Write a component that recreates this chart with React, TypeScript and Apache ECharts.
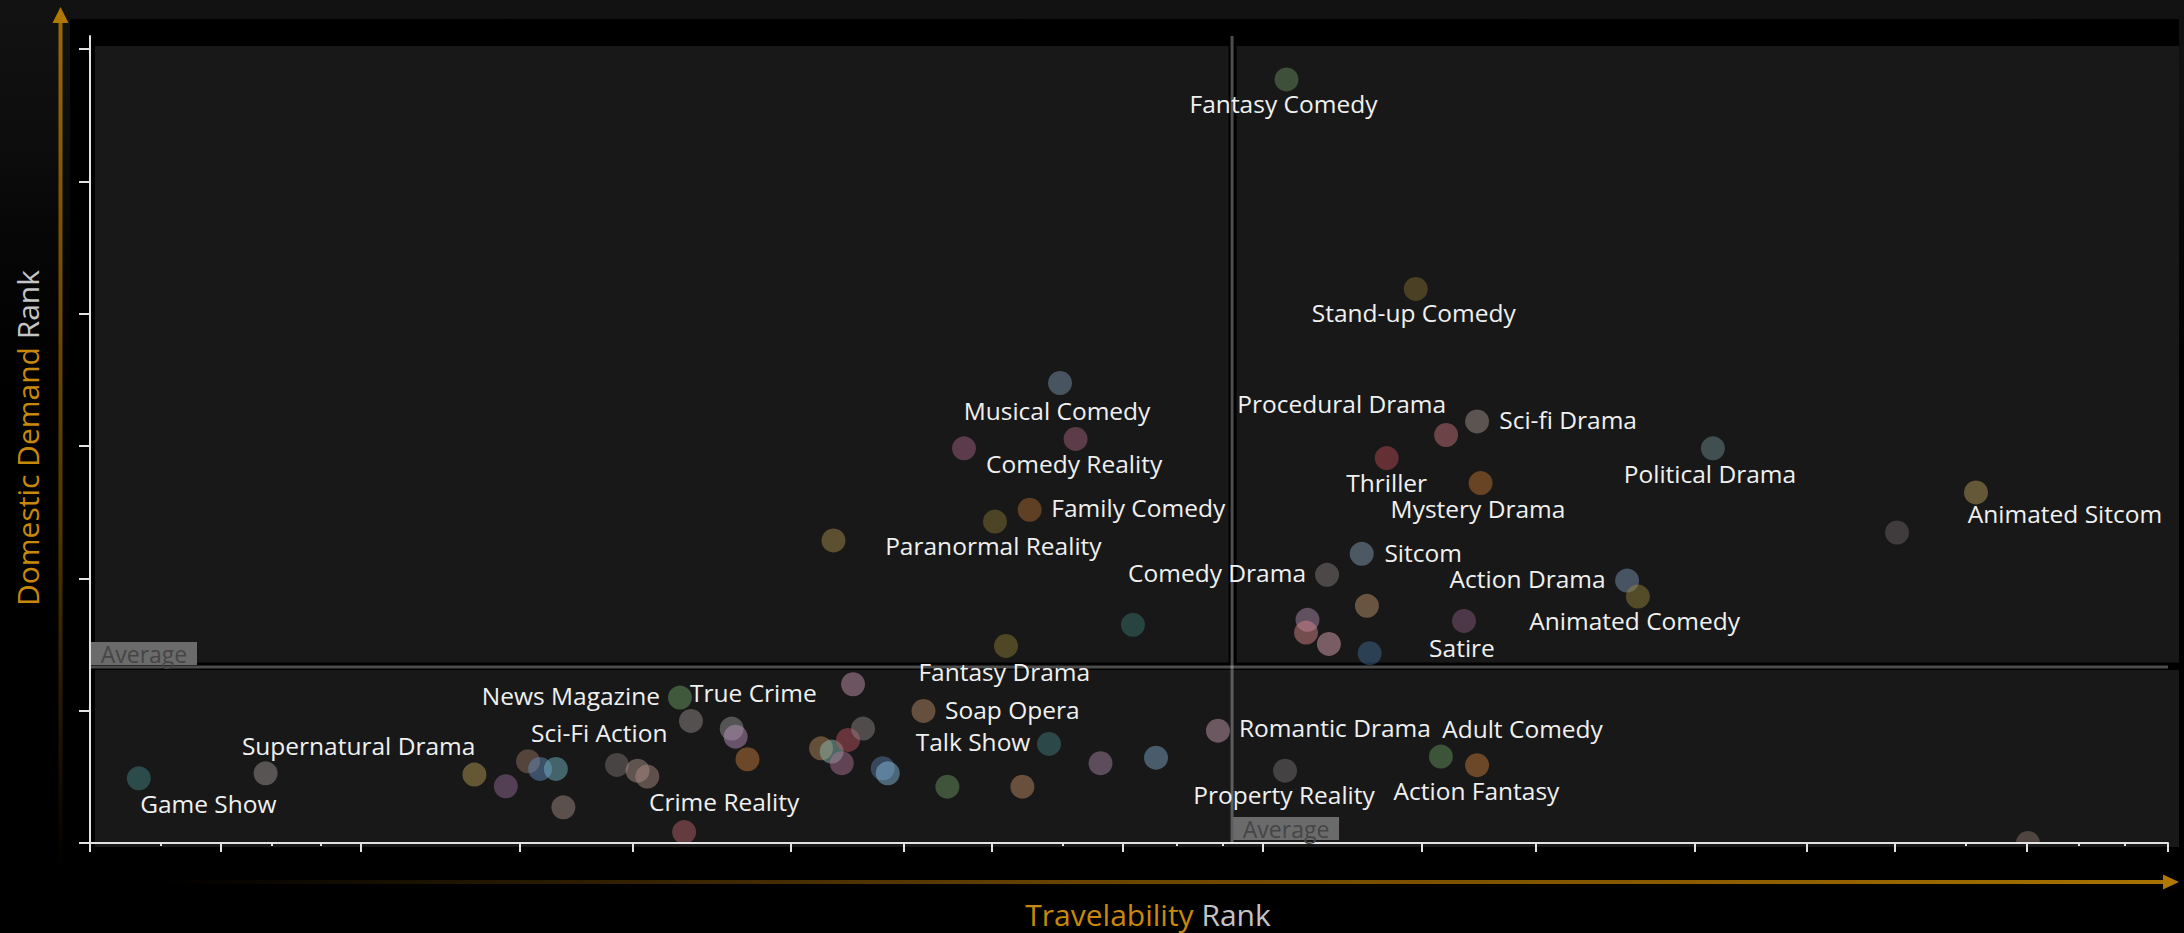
import React, { useEffect, useRef } from 'react';
import * as echarts from 'echarts';

const FONT = "'Open Sans', 'Noto Sans', sans-serif";

// Genre names ('' = unlabelled genre)
const names: string[] = [
  'Fantasy Comedy', 'Stand-up Comedy', 'Musical Comedy', 'Comedy Reality', 'Family Comedy',
  'Paranormal Reality', 'Comedy Drama', 'Sitcom', 'Procedural Drama', 'Sci-fi Drama',
  'Thriller', 'Mystery Drama', 'Political Drama', 'Animated Sitcom', 'Action Drama',
  'Animated Comedy', 'Satire', 'Fantasy Drama', 'News Magazine', 'True Crime',
  'Soap Opera', 'Talk Show', 'Romantic Drama', 'Property Reality', 'Adult Comedy',
  'Action Fantasy', 'Game Show', 'Supernatural Drama', 'Sci-Fi Action', 'Crime Reality',
  '', '', '', '', '', '', '', '', '', '', '', '', '', '', '', '', '', '', '', '', '', '', '', '',
  '', '', '', '', '', '', '', '', '',
];

// Travelability rank (x)
const travel: number[] = [
  57.58, 63.8, 46.68, 47.43, 45.22, 43.55, 59.53, 61.2, 65.26, 66.75,
  62.4, 66.92, 78.1, 90.76, 73.97, 74.49, 66.12, 44.08, 28.39, 28.92,
  40.11, 46.15, 54.28, 57.51, 65.01, 66.75, 2.35, 18.5, 25.36, 28.59,
  42.06, 35.78, 86.96, 61.45, 58.59, 58.52, 59.62, 61.58, 50.19, 36.72,
  30.88, 31.07, 31.64, 35.18, 35.69, 36.48, 37.2, 36.18, 38.15, 38.39,
  41.26, 44.87, 48.63, 51.3, 8.45, 20.01, 21.08, 21.66, 22.42, 22.78,
  26.35, 26.82, 93.26,
];

// Domestic demand rank (y)
const demand: number[] = [
  57.72, 41.88, 34.77, 30.54, 25.19, 24.3, 20.27, 21.86, 30.84, 31.87,
  29.1, 27.21, 29.83, 26.5, 19.84, 18.63, 16.79, 14.9, 10.99, 9.23,
  9.98, 7.49, 8.49, 5.47, 6.53, 5.88, 4.89, 5.17, 5.9, 0.83,
  29.83, 22.87, 23.47, 17.93, 16.87, 15.91, 15.05, 14.35, 16.49, 12.0,
  8.65, 8.04, 6.33, 7.16, 6.91, 7.79, 8.65, 6.03, 5.65, 5.27,
  4.26, 4.26, 6.03, 6.45, 5.27, 4.29, 6.18, 5.6, 5.6, 2.7,
  5.47, 5.02, 0,
];

// Averages
const avgTravel = 54.96;
const avgDemand = 13.31;

// Axis ticks (no labels in the original)
const travelTicksMajor = [0, 6.28, 13.04, 20.69, 26.13, 33.73, 39.17, 43.41, 49.71, 56.45, 64.1, 69.59, 77.24, 82.63, 86.86, 93.21, 100];
const travelTicksMinor = [3.42, 8.76, 11.09, 46.82, 52.31, 54.52, 90.28, 95.72, 97.93];
const demandTicks = [0, 10, 20, 30, 40, 50, 60];

// Dot colours as they appear on the dark panel (style)
const seenColors: string[] = [
  '#485f44', '#5a4b28', '#556473', '#6e4655', '#734b28', '#5a5028', '#5a5555', '#5a6978', '#825055', '#6e645f',
  '#78373c', '#7d5028', '#4b5f5f', '#786941', '#556478', '#645a2d', '#5a4155', '#5f5528', '#4b6946', '#645f5f',
  '#785f46', '#325555', '#826973', '#504d4d', '#466441', '#82552d', '#325a5a', '#78693c', '#555050', '#78464b',
  '#6e465a', '#6e5f37', '#4b4648', '#7d644b', '#735f73', '#8c5c5c', '#917078', '#324b64', '#2d504b', '#826473',
  '#646464', '#7d647d', '#82552d', '#785f41', '#5f7d78', '#7d3c46', '#5f5a5a', '#735064', '#41556e', '#5a7d91',
  '#4b6446', '#7d5f46', '#6e5a6e', '#556e82', '#696464', '#644b64', '#645046', '#465f7d', '#507882', '#6e5f5a',
  '#73645f', '#735f5a', '#5f504b',
];

// label centre relative to dot centre (style)
const labelOffsets: Record<string, [number, number]> = {
  'Fantasy Comedy': [-3, 24], 'Stand-up Comedy': [-2, 24], 'Musical Comedy': [-3, 27],
  'Comedy Reality': [-1.5, 25], 'Family Comedy': [108.6, -2], 'Paranormal Reality': [-1.6, 24.3],
  'Comedy Drama': [-110, -2], 'Sitcom': [61.4, -1.7], 'Procedural Drama': [-104.4, -31.3],
  'Sci-fi Drama': [91, -1.7], 'Thriller': [0, 24.7], 'Mystery Drama': [-2.6, 25],
  'Political Drama': [-3, 25], 'Animated Sitcom': [89, 21.3], 'Action Drama': [-99.5, -1.7],
  'Animated Comedy': [-3.2, 24], 'Satire': [-2, 26.3], 'Fantasy Drama': [-1.7, 25.7],
  'News Magazine': [-109, -2], 'True Crime': [62.4, -28.3], 'Soap Opera': [88.8, -1],
  'Talk Show': [-76, -2.3], 'Romantic Drama': [117, -3], 'Property Reality': [-1, 24.3],
  'Adult Comedy': [81.6, -28.3], 'Action Fantasy': [-0.6, 25], 'Game Show': [69.5, 25.2],
  'Supernatural Drama': [-115.8, -29], 'Sci-Fi Action': [-17.7, -32.7], 'Crime Reality': [40, -30.3],
};

const ALPHA = 0.6;
function toRgba(hex: string): string {
  const n = parseInt(hex.slice(1), 16);
  const ch = [(n >> 16) & 255, (n >> 8) & 255, n & 255];
  const src = ch.map((v) => Math.max(0, Math.min(255, Math.round((v - (1 - ALPHA) * 24) / ALPHA))));
  return `rgba(${src[0]},${src[1]},${src[2]},${ALPHA})`;
}

const AXIS_COLOR = '#e2e2e2';
const ORANGE = '#b07800';

export default function App() {
  const ref = useRef<HTMLDivElement>(null);

  useEffect(() => {
    if (!ref.current) return;
    const chart = echarts.init(ref.current, null, { renderer: 'svg' });

    const data = names.map((n, i) => ({
      name: n,
      value: [travel[i], demand[i]],
      itemStyle: { color: toRgba(seenColors[i]) },
      label: n ? { show: true, offset: labelOffsets[n] || [0, 26] } : { show: false },
    }));

    const tickStyle = { color: AXIS_COLOR, width: 2 };

    chart.setOption({
      animation: false,
      backgroundColor: 'transparent',
      grid: { left: 90, top: 36, width: 2078, height: 807 },
      xAxis: [
        {
          type: 'value', min: 0, max: 100, z: 6, position: 'bottom',
          axisLine: { show: true, onZero: false, lineStyle: { color: AXIS_COLOR, width: 2 } },
          axisTick: { show: true, customValues: travelTicksMajor, length: 9, lineStyle: tickStyle },
          axisLabel: { show: false }, splitLine: { show: false },
        },
        {
          type: 'value', min: 0, max: 100, z: 6, position: 'bottom',
          axisLine: { show: false, onZero: false },
          axisTick: { show: true, customValues: travelTicksMinor, length: 3, lineStyle: tickStyle },
          axisLabel: { show: false }, splitLine: { show: false },
        },
      ],
      yAxis: {
        type: 'value', min: 0, max: 61, z: 6,
        axisLine: { show: true, onZero: false, lineStyle: { color: AXIS_COLOR, width: 2 } },
        axisTick: { show: true, customValues: demandTicks, length: 11, lineStyle: tickStyle },
        axisLabel: { show: false }, splitLine: { show: false },
      },
      series: [
        {
          type: 'scatter', xAxisIndex: 0, yAxisIndex: 0, symbolSize: 24, z: 2,
          data,
          label: {
            show: false, position: 'inside', formatter: '{b}', color: '#f0f0f0',
            fontSize: 24.5, lineHeight: 22, fontFamily: FONT, opacity: 1,
          },
          emphasis: { disabled: true },
        },
        {
          type: 'line', xAxisIndex: 0, yAxisIndex: 0, z: 5, silent: true, symbol: 'none',
          data: [[avgTravel, 0], [avgTravel, 61]],
          lineStyle: { color: 'rgba(255,255,255,0.3)', width: 3 },
        },
        {
          type: 'line', xAxisIndex: 0, yAxisIndex: 0, z: 5, silent: true, symbol: 'none',
          data: [[0, avgDemand], [100, avgDemand]],
          lineStyle: { color: 'rgba(255,255,255,0.3)', width: 3 },
        },
      ],
    });

    const [ax, ay] = chart.convertToPixel({ seriesIndex: 0 }, [avgTravel, avgDemand]) as number[];
    const [x0, y0] = chart.convertToPixel({ seriesIndex: 0 }, [0, 0]) as number[];

    const avgText = (cx: number, cy: number) => ({
      type: 'text', z: 8, silent: true, x: cx, y: cy,
      style: { text: 'Average', fill: '#464646', fontSize: 23, fontFamily: FONT, align: 'center', verticalAlign: 'middle' },
    });

    const titleRich = {
      o: { fill: '#c8880a', fontSize: 30, fontFamily: FONT, lineHeight: 30 },
      g: { fill: '#c4c4c4', fontSize: 30, fontFamily: FONT, lineHeight: 30 },
    };

    chart.setOption({
      graphic: [
        { type: 'rect', z: -10, silent: true, shape: { x: 70, y: 19, width: 2109, height: 914 }, style: { fill: '#000' } },
        { type: 'rect', z: -9, silent: true, shape: { x: 95, y: 46, width: 2084, height: 801 }, style: { fill: '#181818' } },
        { type: 'rect', z: -8, silent: true, shape: { x: ax - 3.5, y: 46, width: 8, height: ay - 46 }, style: { fill: '#000' } },
        { type: 'rect', z: -8, silent: true, shape: { x: 95, y: ay - 4.5, width: 2084, height: 7.5 }, style: { fill: '#000' } },
        // hide the part of marks below the x axis
        { type: 'rect', z: 3, silent: true, shape: { x: 95, y: y0 + 1, width: 2084, height: 847 - y0 - 1 }, style: { fill: '#181818' } },
        { type: 'rect', z: 3, silent: true, shape: { x: 70, y: 847, width: 2109, height: 16 }, style: { fill: '#000' } },
        // Average tags
        { type: 'rect', z: 7, silent: true, shape: { x: x0 + 1, y: ay - 25, width: 106, height: 23 }, style: { fill: '#6b6b6b' } },
        avgText(x0 + 54, ay - 13),
        { type: 'rect', z: 7, silent: true, shape: { x: ax + 1, y: y0 - 26, width: 106, height: 23 }, style: { fill: '#6b6b6b' } },
        avgText(ax + 54, y0 - 14),
        // axis arrows
        {
          type: 'rect', z: 10, silent: true, shape: { x: 58.5, y: 22, width: 4, height: 850 },
          style: {
            fill: new echarts.graphic.LinearGradient(0, 0, 0, 1, [
              { offset: 0, color: 'rgba(176,120,0,0.85)' },
              { offset: 0.6, color: 'rgba(140,90,0,0.6)' },
              { offset: 1, color: 'rgba(120,80,0,0)' },
            ]),
          },
        },
        { type: 'polygon', z: 10, silent: true, shape: { points: [[60.5, 7], [52.5, 23], [68.5, 23]] }, style: { fill: ORANGE } },
        {
          type: 'rect', z: 10, silent: true, shape: { x: 160, y: 880, width: 2005, height: 4 },
          style: {
            fill: new echarts.graphic.LinearGradient(0, 0, 1, 0, [
              { offset: 0, color: 'rgba(120,80,0,0)' },
              { offset: 0.45, color: 'rgba(140,90,0,0.75)' },
              { offset: 1, color: 'rgba(176,120,0,0.95)' },
            ]),
          },
        },
        { type: 'polygon', z: 10, silent: true, shape: { points: [[2179, 882], [2163, 874.5], [2163, 889.5]] }, style: { fill: ORANGE } },
        // axis titles
        {
          type: 'text', z: 10, silent: true, x: 27, y: 438, rotation: Math.PI / 2,
          style: {
            text: '{o|Domestic Demand} {g|Rank}',
            align: 'center', verticalAlign: 'middle', fontSize: 30, fontFamily: FONT, lineHeight: 30,
            rich: titleRich,
          },
        },
        {
          type: 'text', z: 10, silent: true, x: 1148, y: 914,
          style: {
            text: '{o|Travelability} {g|Rank}',
            align: 'center', verticalAlign: 'middle', fontSize: 30, fontFamily: FONT, lineHeight: 30,
            rich: titleRich,
          },
        },
      ],
    });

    return () => chart.dispose();
  }, []);

  return (
    <div
      ref={ref}
      style={{
        position: 'fixed', left: 0, top: 0, width: 2184, height: 933,
        background: 'linear-gradient(180deg, #121212 0px, #0e0e0e 120px, #050505 260px, #000 400px)',
      }}
    />
  );
}
